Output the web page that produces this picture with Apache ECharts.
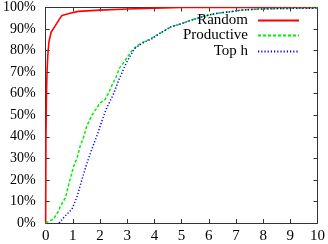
<!DOCTYPE html>
<html>
<head>
<meta charset="utf-8">
<script src="https://cdn.jsdelivr.net/npm/echarts@6/dist/echarts.min.js"></script>
<style>html,body{margin:0;padding:0;background:#fff;}#c{width:328px;height:244px;}</style>
</head>
<body>
<div id="c"></div>
<script>
var xTicks = [0,1,2,3,4,5,6,7,8,9,10];
var yTicks = [0,10,20,30,40,50,60,70,80,90,100];

var randomX = [0, 0.005, 0.01, 0.03, 0.05, 0.08, 0.12, 0.2, 0.35, 0.5, 0.6, 0.9, 1.2, 2, 3, 4, 5, 10];
var randomY = [0, 20, 40, 60, 70, 78, 84, 88.5, 91.5, 94.5, 96.3, 97.3, 98.2, 98.8, 99.3, 99.7, 100, 100];

var productiveX = [0, 0.15, 0.3, 0.45, 0.55, 0.73, 0.85, 1.03, 1.15, 1.27, 1.4, 1.51, 1.7, 1.84, 2.0, 2.18, 2.3, 2.42, 2.6, 2.72, 2.9, 3.14, 3.3, 3.5, 3.81, 4.2, 4.6, 5.0, 5.32, 5.7, 6.0, 6.41, 6.77, 7.2, 7.86, 8.5, 9.0, 9.9, 10];
var productiveY = [0, 1, 2, 5, 8, 11.8, 18, 26.4, 30, 35.7, 40, 44.9, 50, 52.6, 55.7, 57.2, 60, 63.4, 68, 72, 75, 79.5, 81.5, 83.4, 85.2, 88, 91, 92.5, 94, 95.5, 96.5, 97.5, 98, 98.8, 99.3, 99.5, 99.6, 99.7, 99.8];

var tophX = [0.49, 0.7, 0.97, 1.15, 1.33, 1.5, 1.69, 1.9, 2.06, 2.2, 2.36, 2.5, 2.69, 2.96, 3.27, 3.63, 3.87, 4.2, 4.6, 5.0, 5.32, 5.7, 6.0, 6.41, 6.77, 7.2, 7.86, 8.5, 9.0, 9.9, 10];
var tophY = [0, 3, 6.5, 12, 20, 27, 34, 41, 47, 52, 56.4, 60, 66.4, 74.1, 81, 84, 85.2, 88, 91, 92.5, 94, 95.5, 96.5, 97.5, 98, 98.8, 99.3, 99.5, 99.6, 99.7, 99.8];

var names = ['Random', 'Productive', 'Top h'];

function pairs(xs, ys) { return xs.map(function (x, i) { return [x, ys[i]]; }); }

var FONT = 'Liberation Serif';
var axisColor = '#333';

function xAxisCfg(pos, labels) {
  return {
    type: 'value', position: pos, min: xTicks[0], max: xTicks[xTicks.length - 1], interval: 1,
    axisLine: { show: true, onZero: false, lineStyle: { color: axisColor, width: 1 } },
    axisTick: { show: true, inside: true, length: 4, lineStyle: { color: axisColor } },
    axisLabel: { show: labels, color: '#000', fontFamily: FONT, fontSize: 15, margin: 6 },
    splitLine: { show: false }
  };
}
function yAxisCfg(pos, labels) {
  return {
    type: 'value', position: pos, min: yTicks[0], max: yTicks[yTicks.length - 1], interval: 10,
    axisLine: { show: true, onZero: false, lineStyle: { color: axisColor, width: 1 } },
    axisTick: { show: true, inside: true, length: 4, lineStyle: { color: axisColor } },
    axisLabel: { show: labels, color: '#000', fontFamily: FONT, fontSize: 14, margin: 10, formatter: '{value}%' },
    splitLine: { show: false }
  };
}
function legendCfg(name, top) {
  return {
    data: [name], orient: 'vertical', right: 28, top: top, align: 'right', padding: 0,
    itemWidth: 41, itemHeight: 14, selectedMode: false,
    itemStyle: { opacity: 0 },
    textStyle: { fontFamily: FONT, fontSize: 15, color: '#000', padding: [0, 5, 0, 0] }
  };
}

var chart = echarts.init(document.getElementById('c'));
chart.setOption({
  animation: false,
  backgroundColor: '#fff',
  grid: { left: 43, right: 9, top: 7.5, bottom: 20, containLabel: false },
  xAxis: [xAxisCfg('bottom', true), xAxisCfg('top', false)],
  yAxis: [yAxisCfg('left', true), yAxisCfg('right', false)],
  legend: [legendCfg(names[0], 13), legendCfg(names[1], 28), legendCfg(names[2], 44)],
  series: [
    { name: names[0], type: 'line', symbol: 'none', data: pairs(randomX, randomY),
      lineStyle: { color: '#ff0000', width: 1.6 }, itemStyle: { color: '#ff0000' } },
    { name: names[1], type: 'line', symbol: 'none', data: pairs(productiveX, productiveY),
      lineStyle: { color: '#00ee00', width: 1.5, type: [3, 2] }, itemStyle: { color: '#00ee00' } },
    { name: names[2], type: 'line', symbol: 'none', data: pairs(tophX, tophY),
      lineStyle: { color: '#0000ff', width: 1.5, type: [1.2, 2] }, itemStyle: { color: '#0000ff' } }
  ]
});
</script>
</body>
</html>
